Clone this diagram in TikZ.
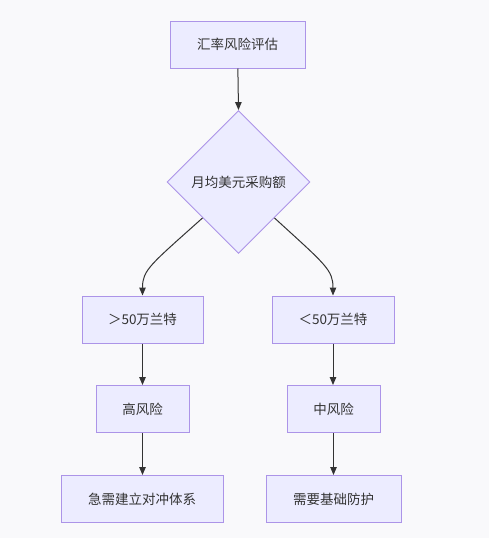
\documentclass[tikz,border=0pt]{standalone}
\usepackage{fontspec}
\setmainfont{Noto Sans CJK SC}
\usetikzlibrary{shapes.geometric,arrows.meta}
\definecolor{bgc}{RGB}{249,249,251}
\definecolor{nodefill}{RGB}{236,236,255}
\definecolor{nodeline}{RGB}{172,148,232}
\definecolor{edgec}{RGB}{51,51,51}
\begin{document}
\begin{tikzpicture}[x=1pt,y=-1pt,
  box/.style={draw=nodeline,fill=nodefill,line width=1pt,minimum height=47pt,inner sep=0pt,font=\fontsize{13.5}{16}\selectfont,text=edgec},
  dia/.style={draw=nodeline,fill=nodefill,line width=0.9pt,shape=diamond,aspect=1,minimum width=143pt,minimum height=143pt,inner sep=0pt,font=\fontsize{13.5}{16}\selectfont,text=edgec},
  conn/.style={draw=edgec,line width=1pt,-{Triangle[length=8pt,width=6.5pt]}}]
\useasboundingbox[fill=bgc] (0,0) rectangle (489,538);
\node[box,minimum width=135pt] (a) at (237.5,44.5) {汇率风险评估};
\node[dia] (d) at (238.5,182) {月均美元采购额};
\node[box,minimum width=121pt] (g) at (142.5,319.5) {＞50万兰特};
\node[box,minimum width=122pt] (l) at (333,319.5) {＜50万兰特};
\node[box,minimum width=93pt] (h) at (142.5,409) {高风险};
\node[box,minimum width=93pt] (m) at (333.5,409) {中风险};
\node[box,minimum width=162pt] (hh) at (142,499) {急需建立对冲体系};
\node[box,minimum width=135pt] (mm) at (333.5,499) {需要基础防护};
\draw[conn] (a) -- (d.north);
\draw[conn] (d.south west) .. controls (150,265) and (142.5,270) .. (g.north);
\draw[conn] (d.south east) .. controls (326,265) and (333,270) .. (l.north);
\draw[conn] (g) -- (h);
\draw[conn] (l) -- (l.south |- m.north);
\draw[conn] (h) -- (h.south |- hh.north);
\draw[conn] (m) -- (mm);
\end{tikzpicture}
\end{document}
